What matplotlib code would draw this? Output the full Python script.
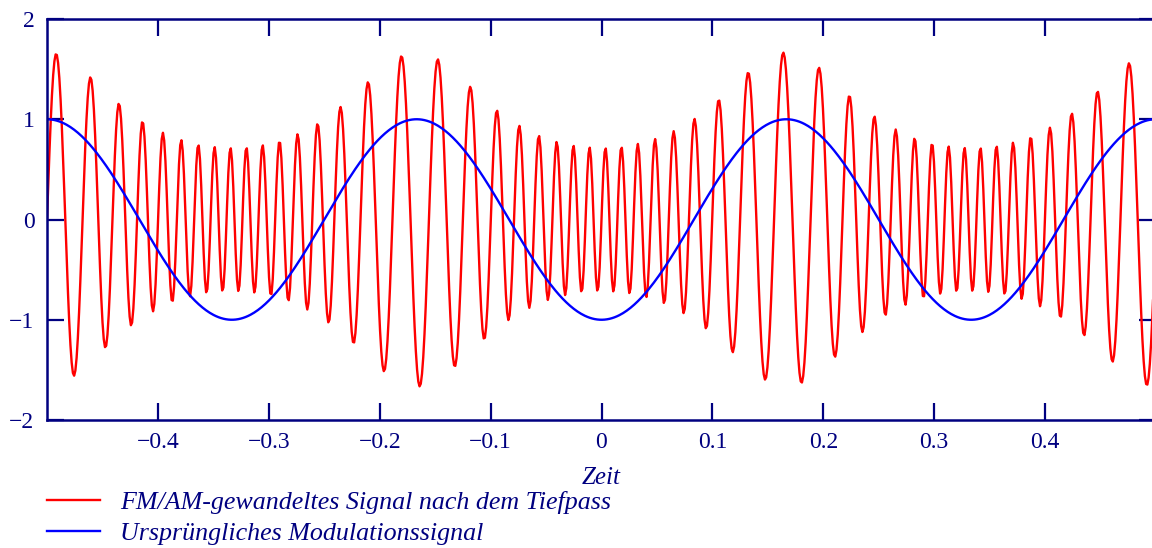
import numpy as np
import matplotlib
matplotlib.use("Agg")
import matplotlib.pyplot as plt

# ---- chart data / signal parameters ----
t_range = [-0.5, 0.5]          # time span (s)
n_samples = 900                 # sampling of the curves
mod_freq = 3.0                  # modulation signal frequency (3 periods in 1 s)
mod_amplitude = 1.0             # blue curve amplitude
carrier_freq = 50.0             # centre frequency of the FM signal
freq_deviation = 20.0           # 30 ... 70 Hz swing
lowpass_gain = 50.0             # amplitude ~ gain / instantaneous frequency

x_ticks = [-0.4, -0.3, -0.2, -0.1, 0.0, 0.1, 0.2, 0.3, 0.4]
x_tick_labels = ["\u22120.4", "\u22120.3", "\u22120.2", "\u22120.1", "0", "0.1", "0.2", "0.3", "0.4"]
y_ticks = [-2, -1, 0, 1, 2]
y_tick_labels = ["\u22122", "\u22121", "0", "1", "2"]
x_label = "Zeit"
series_labels = ["FM/AM-gewandeltes Signal nach dem Tiefpass",
                 "Ursprüngliches Modulationssignal"]

# ---- signals ----
t = np.linspace(t_range[0], t_range[1], n_samples)
modulation = -mod_amplitude * np.cos(2 * np.pi * mod_freq * t)
inst_freq = carrier_freq - freq_deviation * modulation
phase = 2 * np.pi * carrier_freq * (t - t_range[0]) + \
    (freq_deviation / mod_freq) * (np.sin(2 * np.pi * mod_freq * t) - np.sin(2 * np.pi * mod_freq * t_range[0]))
fm_am = (lowpass_gain / inst_freq) * np.sin(phase)

# ---- styling ----
navy = "#000080"
plt.rcParams["font.family"] = ["Liberation Serif", "DejaVu Serif"]
plt.rcParams["font.size"] = 17

W, H = 1152, 548
fig = plt.figure(figsize=(W / 100, H / 100), dpi=100)
ax = fig.add_axes([47 / W, 1 - 420 / H, (1156 - 47) / W, (420 - 19) / H])

ax.plot(t, fm_am, color="#ff0000", lw=1.7, label=series_labels[0])
ax.plot(t, modulation, color="#0000ff", lw=1.7, label=series_labels[1])

ax.set_xlim(t_range)
ax.set_ylim(-2, 2)
ax.set_xticks(x_ticks)
ax.set_xticklabels(x_tick_labels)
ax.set_yticks(y_ticks)
ax.set_yticklabels(y_tick_labels)

for s in ax.spines.values():
    s.set_color(navy)
    s.set_linewidth(1.8)

ax.tick_params(axis="x", direction="in", length=12, width=1.6, color=navy,
               labelcolor=navy, top=True, pad=9, labelsize=17)
ax.tick_params(axis="y", direction="in", length=12, width=1.6, color=navy,
               labelcolor=navy, right=True, pad=9, labelsize=17)

ax.set_xlabel(x_label, fontstyle="italic", color=navy, fontsize=18, labelpad=10)

leg = fig.legend(loc="upper left", bbox_to_anchor=(47 / W, 1 - 491 / H),
                 frameon=False, fontsize=18.7, handlelength=2.05, handletextpad=0.75,
                 labelspacing=0.3, borderpad=0, borderaxespad=0)
for txt in leg.get_texts():
    txt.set_color(navy)
    txt.set_fontstyle("italic")

fig.savefig("out.png", dpi=100)
